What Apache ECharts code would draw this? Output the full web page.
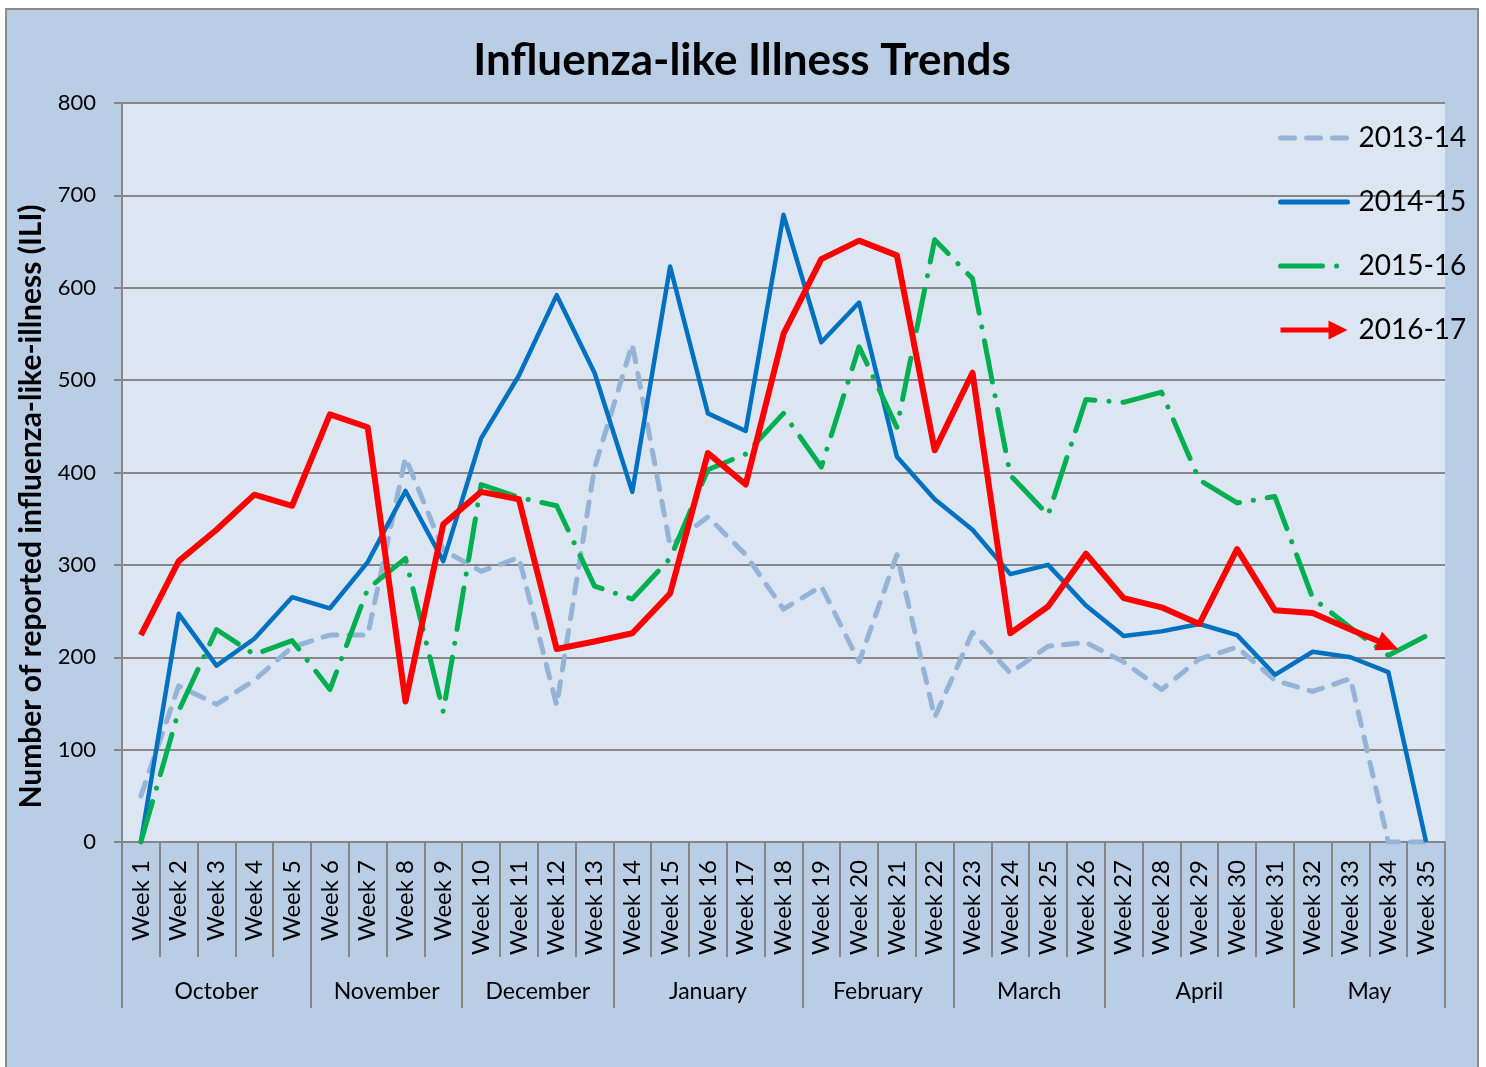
<!DOCTYPE html>
<html>
<head>
<meta charset="utf-8">
<script src="https://cdn.jsdelivr.net/npm/echarts@6/dist/echarts.min.js"></script>
<style>
  html, body { margin: 0; padding: 0; background: #fff; overflow: hidden; }
  #chart {
    position: absolute; left: 5px; top: 8px;
    width: 1474px; height: 1100px;
    box-sizing: border-box;
    border: 2px solid #8c8c8c;
    background: #b9cde5;
  }
</style>
</head>
<body>
<div id="chart"></div>
<script>
  const weeks = Array.from({ length: 35 }, (_, i) => 'Week ' + (i + 1));
  const months = ['October', 'November', 'December', 'January', 'February', 'March', 'April', 'May'];
  const monthWeekCounts = [5, 4, 4, 5, 4, 4, 5, 4];
  const yTicks = [0, 100, 200, 300, 400, 500, 600, 700, 800];

  const season1314 = [50, 169, 149, 175, 211, 224, 224, 416, 316, 293, 308, 148, 405, 539, 321, 352, 311, 252, 277, 195, 311, 135, 227, 183, 212, 216, 195, 165, 198, 211, 175, 163, 177, 0, 0];
  const season1415 = [0, 247, 191, 220, 265, 253, 303, 380, 304, 437, 505, 592, 508, 379, 623, 464, 445, 679, 541, 584, 417, 371, 338, 290, 300, 256, 223, 228, 236, 224, 181, 206, 200, 184, 0];
  const season1516 = [0, 142, 230, 203, 218, 165, 274, 307, 141, 387, 373, 364, 277, 263, 307, 403, 420, 464, 406, 536, 449, 652, 610, 397, 354, 479, 476, 487, 392, 367, 374, 264, 232, 202, 223];
  const season1617 = [224, 304, 338, 376, 364, 463, 449, 152, 344, 379, 371, 209, 217, 226, 269, 421, 387, 550, 631, 651, 635, 424, 508, 226, 255, 312, 264, 254, 236, 317, 251, 248, 230, 213, null];

  const FONT = 'Lato';
  const GRID_COLOR = '#868686';

  // month boundaries / label positions on a 0..35 value scale
  const monthEdges = [0];
  monthWeekCounts.forEach(n => monthEdges.push(monthEdges[monthEdges.length - 1] + n));
  const monthMids = months.map((m, i) => (monthEdges[i] + monthEdges[i + 1]) / 2);

  // last red point gets an arrow head
  const lastIdx = season1617.reduce((acc, v, i) => (v != null ? i : acc), 0);
  const redData = season1617.map((v, i) => (i === lastIdx
    ? { value: v, symbol: 'triangle', symbolSize: [20, 22], itemStyle: { color: '#ff0000' } }
    : v));

  const myChart = echarts.init(document.getElementById('chart'), null, { renderer: 'canvas' });

  const option = {
    animation: false,
    textStyle: { fontFamily: FONT },
    title: {
      text: 'Influenza-like Illness Trends',
      left: 'center',
      top: 24,
      textStyle: { fontFamily: FONT, fontSize: 44, fontWeight: 'bold', color: '#000' }
    },
    legend: {
      orient: 'vertical',
      left: 1266,
      top: 108,
      itemWidth: 67,
      itemHeight: 19,
      itemGap: 34,
      itemStyle: { opacity: 0 },
      lineStyle: { width: 5, cap: 'round' },
      textStyle: { fontFamily: FONT, fontSize: 28, color: '#000', lineHeight: 30, padding: [0, 0, 0, 6] },
      data: [
        { name: '2013-14' },
        { name: '2014-15' },
        { name: '2015-16' },
        { name: '2016-17', icon: 'path://M0,7 L48,7 L48,0 L67,9.5 L48,19 L48,12 L0,12 Z', itemStyle: { opacity: 1 } }
      ]
    },
    grid: {
      left: 115,
      top: 93,
      width: 1323,
      height: 739,
      show: true,
      backgroundColor: '#dce6f2',
      borderWidth: 0
    },
    xAxis: [
      {
        type: 'category',
        data: weeks,
        boundaryGap: true,
        axisLine: { lineStyle: { color: GRID_COLOR, width: 2 } },
        axisTick: { show: true, interval: 0, length: 115, lineStyle: { color: GRID_COLOR, width: 2 } },
        axisLabel: { interval: 0, rotate: 90, margin: 18, fontSize: 24, color: '#000', fontFamily: FONT },
        splitLine: { show: false }
      },
      {
        type: 'value',
        min: 0,
        max: 35,
        position: 'bottom',
        axisLine: { show: false },
        axisTick: { show: true, length: 166, customValues: monthEdges, lineStyle: { color: GRID_COLOR, width: 2 } },
        axisLabel: {
          margin: 138,
          fontSize: 23,
          color: '#000',
          fontFamily: FONT,
          customValues: monthMids,
          formatter: (val) => {
            const idx = monthMids.findIndex(m => Math.abs(m - val) < 0.01);
            return idx >= 0 ? months[idx] : '';
          }
        },
        splitLine: { show: false }
      }
    ],
    yAxis: {
      type: 'value',
      min: yTicks[0],
      max: yTicks[yTicks.length - 1],
      interval: 100,
      name: 'Number of reported influenza-like-illness (ILI)',
      nameLocation: 'middle',
      nameGap: 70,
      nameTextStyle: { fontFamily: FONT, fontSize: 30, fontWeight: 'bold', color: '#000', padding: [0, 68, 0, 0] },
      axisLine: { show: true, lineStyle: { color: GRID_COLOR, width: 2 } },
      axisTick: { show: true, length: 8, lineStyle: { color: GRID_COLOR, width: 2 } },
      axisLabel: { margin: 26, fontSize: 22, color: '#000', fontFamily: FONT },
      splitLine: { lineStyle: { color: GRID_COLOR, width: 2 } }
    },
    series: [
      {
        name: '2013-14',
        type: 'line',
        data: season1314,
        symbol: 'none',
        color: '#95b3d7',
        lineStyle: { color: '#95b3d7', width: 5, type: [14, 12], cap: 'round', join: 'round' },
        z: 2
      },
      {
        name: '2014-15',
        type: 'line',
        data: season1415,
        symbol: 'none',
        color: '#0070c0',
        lineStyle: { color: '#0070c0', width: 4.5, join: 'round' },
        z: 3
      },
      {
        name: '2015-16',
        type: 'line',
        data: season1516,
        symbol: 'none',
        color: '#00b050',
        lineStyle: { color: '#00b050', width: 5, type: [42, 14, 0.1, 14], cap: 'round', join: 'round' },
        z: 4
      },
      {
        name: '2016-17',
        type: 'line',
        data: redData,
        symbol: 'none',
        showSymbol: true,
        color: '#ff0000',
        lineStyle: { color: '#ff0000', width: 6, join: 'round' },
        z: 5
      }
    ]
  };

  myChart.setOption(option);

  // point the arrow head along the last red segment
  const p0 = myChart.convertToPixel({ xAxisIndex: 0, yAxisIndex: 0 }, [lastIdx - 1, season1617[lastIdx - 1]]);
  const p1 = myChart.convertToPixel({ xAxisIndex: 0, yAxisIndex: 0 }, [lastIdx, season1617[lastIdx]]);
  const angle = Math.atan2(p1[1] - p0[1], p1[0] - p0[0]) * 180 / Math.PI;
  redData[lastIdx].symbolRotate = -90 - angle;
  myChart.setOption({ series: [{}, {}, {}, { data: redData }] });
</script>
</body>
</html>
